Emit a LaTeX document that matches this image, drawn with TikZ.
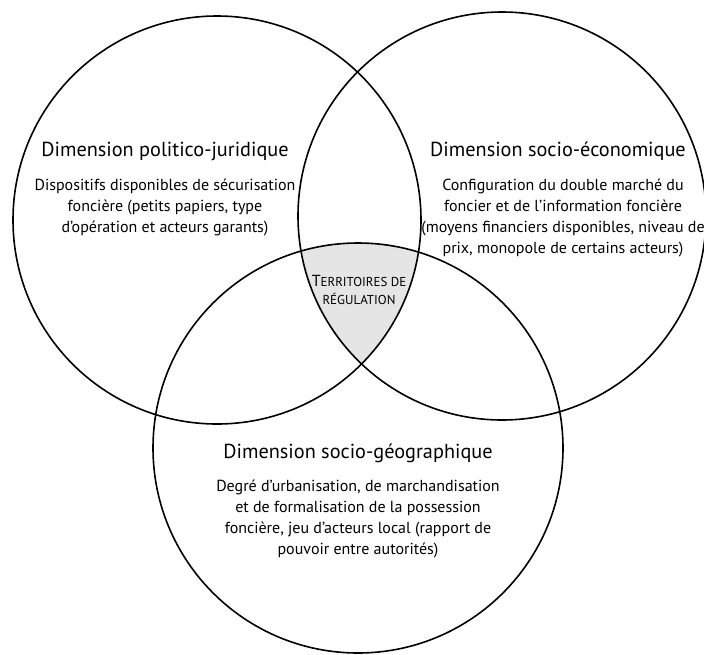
\documentclass[tikz,border=0pt]{standalone}
\usepackage{fontspec}
\setmainfont{PT Sans}
\usetikzlibrary{positioning}

\tikzset{
  dimcircle/.style={draw=black, line width=1.2pt},
  dimtitle/.style={font=\fontsize{15.2}{17}\selectfont},
  dimtext/.style={align=center, font=\fontsize{12}{15.75}\selectfont},
  regtext/.style={align=center, font=\fontsize{9.7}{13.5}\selectfont}
}

\begin{document}
\begin{tikzpicture}[x=0.75pt, y=-0.75pt]
  \useasboundingbox (0,0) rectangle (704,654);

  % centres des trois dimensions
  \coordinate (pj) at (217,220);
  \coordinate (se) at (502,216);
  \coordinate (sg) at (358,448);

  % zone commune
  \begin{scope}
    \clip (pj) circle [radius=153pt];
    \clip (se) circle [radius=153pt];
    \fill[gray!20] (sg) circle [radius=153.75pt];
  \end{scope}

  \draw[dimcircle] (pj) circle [radius=153pt];
  \draw[dimcircle] (se) circle [radius=153pt];
  \draw[dimcircle] (sg) circle [radius=153.75pt];

  \node[dimtitle] (pjtitle) at (165,151) {Dimension politico-juridique};
  \node[dimtext] (pjtext) at (165,207) {Dispositifs disponibles de sécurisation\\
    foncière (petits papiers, type\\
    d’opération et acteurs garants)};

  \node[dimtitle] (setitle) at (558,151) {Dimension socio-économique};
  \node[dimtext] (setext) at (563,217.5) {Configuration du double marché du\\
    foncier et de l’information foncière\\
    (moyens financiers disponibles, niveau de\\
    prix, monopole de certains acteurs)};

  \node[dimtitle] (sgtitle) at (358,453) {Dimension socio-géographique};
  \node[dimtext] (sgtext) at (358,518.5) {Degré d’urbanisation, de marchandisation\\
    et de formalisation de la possession\\
    foncière, jeu d’acteurs local (rapport de\\
    pouvoir entre autorités)};

  \node[regtext] (reg) at (359,290) {{\fontsize{12}{13.5}\selectfont T}ERRITOIRES DE\\
    RÉGULATION};
\end{tikzpicture}
\end{document}
